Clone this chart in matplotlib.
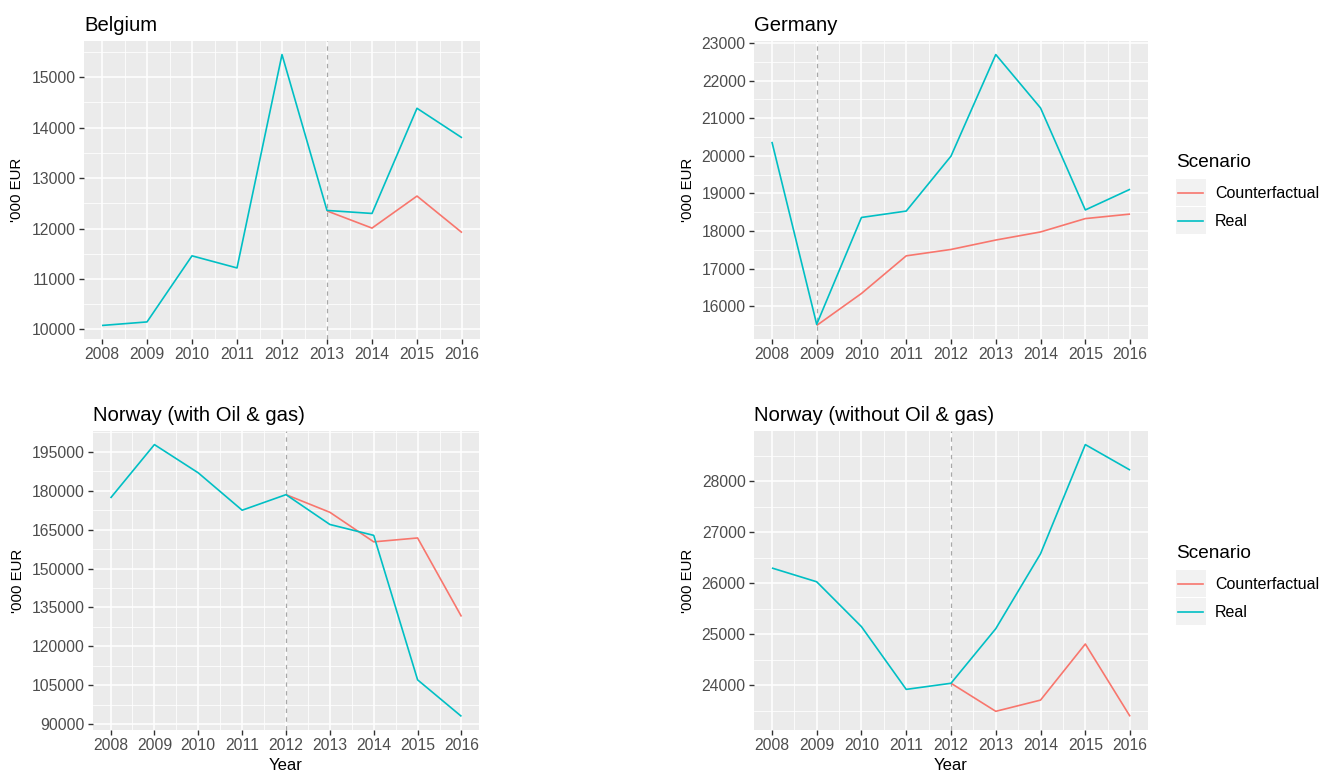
import matplotlib
matplotlib.use('Agg')
import matplotlib.pyplot as plt
from matplotlib.ticker import MultipleLocator
from matplotlib.legend_handler import HandlerLine2D
from matplotlib.patches import Rectangle
from matplotlib.lines import Line2D

plt.rcParams['font.family'] = ['Liberation Sans', 'DejaVu Sans']

# ---------------- data ----------------
years = [2008, 2009, 2010, 2011, 2012, 2013, 2014, 2015, 2016]
scenarios = ['Counterfactual', 'Real']
scenario_colors = ['#F8766D', '#00BFC4']

belgium_title = 'Belgium'
belgium_real = [10080, 10150, 11460, 11220, 15450, 12360, 12300, 14385, 13800]
belgium_cf_start = 2013
belgium_cf = [12350, 12010, 12645, 11920]
belgium_yticks = [10000, 11000, 12000, 13000, 14000, 15000]

germany_title = 'Germany'
germany_real = [20370, 15520, 18360, 18530, 19990, 22690, 21270, 18560, 19110]
germany_cf_start = 2009
germany_cf = [15490, 16340, 17340, 17510, 17760, 17975, 18330, 18450]
germany_yticks = [16000, 17000, 18000, 19000, 20000, 21000, 22000, 23000]

norway_oil_title = 'Norway (with Oil & gas)'
norway_oil_real = [177200, 197800, 186900, 172500, 178500, 167000, 162800, 107100, 93000]
norway_oil_cf_start = 2012
norway_oil_cf = [178500, 171700, 160300, 161800, 131500]
norway_oil_yticks = [90000, 105000, 120000, 135000, 150000, 165000, 180000, 195000]

norway_noil_title = 'Norway (without Oil & gas)'
norway_noil_real = [26300, 26030, 25150, 23920, 24040, 25110, 26580, 28720, 28220]
norway_noil_cf_start = 2012
norway_noil_cf = [24040, 23490, 23710, 24810, 23390]
norway_noil_yticks = [24000, 25000, 26000, 27000, 28000]

y_label = "'000 EUR"
x_label = 'Year'
legend_title = 'Scenario'

# ---------------- layout ----------------
W, H = 1322, 773
fig = plt.figure(figsize=(W / 100, H / 100), dpi=100)


def px_axes(left, top, right, bottom):
    return [left / W, 1 - bottom / H, (right - left) / W, (bottom - top) / H]


panels = [
    dict(title=belgium_title, real=belgium_real, cf=belgium_cf, start=belgium_cf_start,
         yticks=belgium_yticks, minor=500, rect=px_axes(84, 41, 480, 339),
         ylab_x=-0.152, xlabel=False, legend_y=None),
    dict(title=germany_title, real=germany_real, cf=germany_cf, start=germany_cf_start,
         yticks=germany_yticks, minor=500, rect=px_axes(754, 41, 1148, 339),
         ylab_x=-0.150, xlabel=False, legend_y=1 - 194 / H),
    dict(title=norway_oil_title, real=norway_oil_real, cf=norway_oil_cf, start=norway_oil_cf_start,
         yticks=norway_oil_yticks, minor=7500, rect=px_axes(93, 431, 479, 730),
         ylab_x=-0.176, xlabel=True, legend_y=None),
    dict(title=norway_noil_title, real=norway_noil_real, cf=norway_noil_cf, start=norway_noil_cf_start,
         yticks=norway_noil_yticks, minor=500, rect=px_axes(754, 431, 1148, 730),
         ylab_x=-0.150, xlabel=True, legend_y=1 - 585 / H),
]


class KeyHandler(HandlerLine2D):
    def create_artists(self, legend, orig_handle, xdescent, ydescent, width, height,
                       fontsize, trans):
        rect = Rectangle((-xdescent, -ydescent), width, height, facecolor='#F2F2F2',
                         edgecolor='none', transform=trans)
        yc = -ydescent + height / 2
        line = Line2D([-xdescent + width * 0.08, -xdescent + width * 0.88], [yc, yc],
                      color=orig_handle.get_color(), lw=orig_handle.get_linewidth(),
                      transform=trans)
        return [rect, line]


tick_color = '#4D4D4D'
for p in panels:
    ax = fig.add_axes(p['rect'])
    ax.set_facecolor('#EBEBEB')
    for s in ax.spines.values():
        s.set_visible(False)

    cf_years = [y for y in years if y >= p['start']]
    l_cf, = ax.plot(cf_years, p['cf'], color=scenario_colors[0], lw=1.2,
                    label=scenarios[0], zorder=3, solid_capstyle='butt')
    l_real, = ax.plot(years, p['real'], color=scenario_colors[1], lw=1.2,
                      label=scenarios[1], zorder=4, solid_capstyle='butt')
    ax.axvline(p['start'], color='#A8A8A8', lw=0.9, ls=(0, (3.5, 3.5)), zorder=2.5)

    ax.margins(x=0.05, y=0.05)
    ax.set_xticks(years, labels=[str(y) for y in years])
    ax.set_yticks(p['yticks'], labels=[str(t) for t in p['yticks']])
    ax.xaxis.set_minor_locator(MultipleLocator(0.5))
    ax.yaxis.set_minor_locator(MultipleLocator(p['minor']))
    ax.grid(which='major', color='white', lw=1.1, zorder=0)
    ax.grid(which='minor', color='white', lw=0.55, zorder=0)
    ax.set_axisbelow(True)
    ax.tick_params(which='major', length=3.5, width=1.0, color='#333333',
                   labelsize=11.3, labelcolor=tick_color, pad=2.5)
    ax.tick_params(which='minor', length=0)

    ax.set_title(p['title'], loc='left', fontsize=14.6, color='black', pad=7)
    ax.set_ylabel(y_label, fontsize=10.8, color='black')
    ax.yaxis.set_label_coords(p['ylab_x'], 0.5)
    if p['xlabel']:
        ax.set_xlabel(x_label, fontsize=12, color='black', labelpad=3)

    if p['legend_y'] is None:
        continue
    leg = fig.legend(handles=[l_cf, l_real], labels=scenarios, title=legend_title,
                     loc='center left', bbox_to_anchor=(1176 / W, p['legend_y']),
                     frameon=False, fontsize=11.5, title_fontsize=13.7,
                     handlelength=1.9, handleheight=2.22, labelspacing=0.06,
                     handletextpad=0.55, borderpad=0, borderaxespad=0,
                     alignment='left', handler_map={Line2D: KeyHandler()})
    leg._legend_box.sep = 6

fig.savefig('out.png', dpi=100)
